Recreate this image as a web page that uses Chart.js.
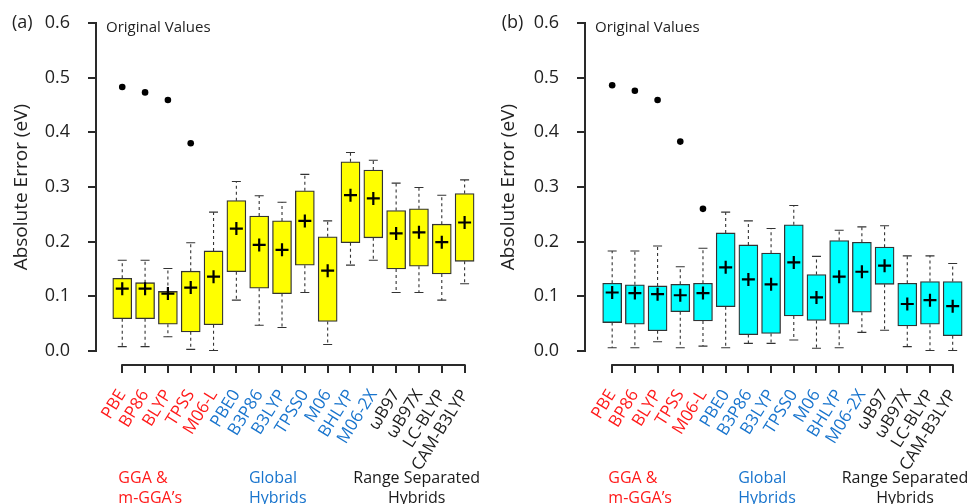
<!DOCTYPE html>
<html>
<head>
<meta charset="utf-8">
<script src="https://cdn.jsdelivr.net/npm/chart.js@4.4.1/dist/chart.umd.min.js"></script>
<style>
    body { margin: 0; background: #fff; }
    .panel { position: absolute; top: 0; }
</style>
</head>
<body>
<canvas id="chartA" class="panel" width="487" height="504" style="left:0px"></canvas>
<canvas id="chartB" class="panel" width="488" height="504" style="left:487px"></canvas>
<script>
const methodNames = ['PBE', 'BP86', 'BLYP', 'TPSS', 'M06-L', 'PBE0', 'B3P86', 'B3LYP', 'TPSS0',
    'M06', 'BHLYP', 'M06-2X', '\u03c9B97', '\u03c9B97X', 'LC-BLYP', 'CAM-B3LYP'];
const labelColors = ['#ff1a1a', '#ff1a1a', '#ff1a1a', '#ff1a1a', '#ff1a1a',
    '#1874cd', '#1874cd', '#1874cd', '#1874cd', '#1874cd', '#1874cd', '#1874cd',
    '#1a1a1a', '#1a1a1a', '#1a1a1a', '#1a1a1a'];
const yTicks = [0, 0.1, 0.2, 0.3, 0.4, 0.5, 0.6];

// (a) yellow panel
const aLow = [0.008, 0.008, 0.026, 0.003, 0.001, 0.093, 0.047, 0.043, 0.107, 0.012, 0.157, 0.166, 0.107, 0.107, 0.093, 0.123];
const aQ1 = [0.059, 0.059, 0.049, 0.035, 0.048, 0.145, 0.115, 0.105, 0.157, 0.054, 0.198, 0.207, 0.150, 0.155, 0.141, 0.164];
const aQ3 = [0.133, 0.125, 0.109, 0.146, 0.183, 0.275, 0.247, 0.238, 0.293, 0.209, 0.346, 0.331, 0.257, 0.260, 0.232, 0.288];
const aHigh = [0.166, 0.166, 0.151, 0.198, 0.254, 0.310, 0.284, 0.272, 0.323, 0.238, 0.363, 0.349, 0.307, 0.299, 0.285, 0.313];
const aMean = [0.114, 0.114, 0.105, 0.116, 0.136, 0.224, 0.194, 0.185, 0.238, 0.147, 0.285, 0.279, 0.215, 0.217, 0.199, 0.235];
const aOutIdx = [1, 2, 3, 4];
const aOutVal = [0.483, 0.473, 0.459, 0.380];

// (b) cyan panel
const bLow = [0.006, 0.006, 0.017, 0.006, 0.009, 0.006, 0.014, 0.014, 0.020, 0.005, 0.006, 0.034, 0.038, 0.008, 0.001, 0.001];
const bQ1 = [0.052, 0.049, 0.037, 0.072, 0.055, 0.081, 0.030, 0.032, 0.064, 0.056, 0.049, 0.071, 0.122, 0.046, 0.049, 0.028];
const bQ3 = [0.124, 0.121, 0.119, 0.122, 0.124, 0.216, 0.194, 0.179, 0.231, 0.140, 0.202, 0.199, 0.190, 0.124, 0.127, 0.127];
const bHigh = [0.183, 0.183, 0.192, 0.154, 0.188, 0.254, 0.238, 0.224, 0.266, 0.173, 0.221, 0.227, 0.229, 0.174, 0.174, 0.160];
const bMean = [0.107, 0.106, 0.104, 0.102, 0.106, 0.153, 0.131, 0.122, 0.162, 0.098, 0.136, 0.145, 0.156, 0.086, 0.093, 0.082];
const bOutIdx = [1, 2, 3, 4, 5];
const bOutVal = [0.486, 0.476, 0.459, 0.383, 0.260];

const groupLabels = [
    { lines: ['GGA &', 'm-GGA\u2019s'], x: 0.83, align: 'left', color: '#ff1a1a' },
    { lines: ['Global', 'Hybrids'], x: 6.55, align: 'left', color: '#1874cd' },
    { lines: ['Range Separated', 'Hybrids'], x: 13.9, align: 'center', color: '#1a1a1a' }
];

const axisColor = '#2a2a2a';
const textColor = '#222';
Chart.defaults.font.family = "'Open Sans', sans-serif";

function makeExtras(p) {
    return {
        id: 'boxExtras',
        afterDatasetsDraw(chart) {
            const { ctx, chartArea } = chart;
            const x = chart.scales.x, y = chart.scales.y;
            const base = Math.round(y.bottom);
            const left = Math.round(chartArea.left);
            ctx.save();
            // R style axes: lines only span the tick range
            ctx.strokeStyle = axisColor;
            ctx.lineWidth = 2;
            ctx.beginPath();
            ctx.moveTo(left, y.getPixelForValue(0) + 1);
            ctx.lineTo(left, y.getPixelForValue(0.6) - 1);
            ctx.moveTo(x.getPixelForValue(1) - 1, base);
            ctx.lineTo(x.getPixelForValue(methodNames.length) + 1, base);
            for (let i = 0; i < methodNames.length; i++) {
                ctx.moveTo(Math.round(x.getPixelForValue(i + 1)), base);
                ctx.lineTo(Math.round(x.getPixelForValue(i + 1)), base + 8);
            }
            for (const v of yTicks) {
                ctx.moveTo(left, Math.round(y.getPixelForValue(v)));
                ctx.lineTo(left - 8, Math.round(y.getPixelForValue(v)));
            }
            ctx.stroke();
            ctx.restore();
        },
        beforeDatasetsDraw(chart) {
            const { ctx } = chart;
            const x = chart.scales.x, y = chart.scales.y;
            ctx.save();
            // whiskers
            ctx.strokeStyle = '#333';
            ctx.lineWidth = 1.1;
            for (let i = 0; i < methodNames.length; i++) {
                const px = x.getPixelForValue(i + 1);
                ctx.setLineDash([3, 3]);
                ctx.beginPath();
                ctx.moveTo(px, y.getPixelForValue(p.q3[i]));
                ctx.lineTo(px, y.getPixelForValue(p.high[i]));
                ctx.moveTo(px, y.getPixelForValue(p.q1[i]));
                ctx.lineTo(px, y.getPixelForValue(p.low[i]));
                ctx.stroke();
                ctx.setLineDash([]);
                ctx.beginPath();
                ctx.moveTo(px - 4.5, y.getPixelForValue(p.high[i]));
                ctx.lineTo(px + 4.5, y.getPixelForValue(p.high[i]));
                ctx.moveTo(px - 4.5, y.getPixelForValue(p.low[i]));
                ctx.lineTo(px + 4.5, y.getPixelForValue(p.low[i]));
                ctx.stroke();
            }
            ctx.restore();
        },
        afterDraw(chart) {
            const { ctx, chartArea } = chart;
            const x = chart.scales.x, y = chart.scales.y;
            ctx.save();
            ctx.textBaseline = 'middle';
            ctx.fillStyle = textColor;
            ctx.font = "18px 'Open Sans'";
            ctx.textAlign = 'left';
            ctx.fillText(p.tag, p.tagX, y.getPixelForValue(0.6));
            ctx.font = "15px 'Open Sans'";
            ctx.fillText('Original Values', chartArea.left + 10, 28);

            ctx.font = "16px 'Open Sans'";
            for (const g of groupLabels) {
                ctx.fillStyle = g.color;
                ctx.textAlign = g.align;
                g.lines.forEach((line, k) => {
                    ctx.fillText(line, x.getPixelForValue(g.x), 478 + k * 20);
                });
            }
            ctx.restore();
        }
    };
}

function makePanel(id, p) {
    const boxes = methodNames.map((m, i) => ({ x: i + 1, y: [p.q1[i], p.q3[i]] }));
    const means = methodNames.map((m, i) => ({ x: i + 1, y: p.mean[i] }));
    const outliers = p.outIdx.map((v, i) => ({ x: v, y: p.outVal[i] }));

    return new Chart(document.getElementById(id), {
        type: 'bar',
        data: {
            datasets: [
                {
                    type: 'bar', data: boxes, backgroundColor: p.fill, borderColor: '#333',
                    borderWidth: 1.3, borderSkipped: false, barThickness: 19, order: 3
                },
                {
                    type: 'line', data: means, showLine: false, pointStyle: 'cross',
                    pointRadius: 6.5, pointBorderWidth: 2.2, pointBorderColor: '#000', order: 1
                },
                {
                    type: 'line', data: outliers, showLine: false, pointStyle: 'circle',
                    pointRadius: 3.3, pointBackgroundColor: '#000', pointBorderWidth: 0, order: 2
                }
            ]
        },
        options: {
            responsive: false,
            animation: false,
            layout: { padding: { left: 0, top: 9.3, right: p.padRight, bottom: 0 } },
            plugins: { legend: { display: false }, tooltip: { enabled: false } },
            scales: {
                x: {
                    type: 'linear', offset: false, min: p.xMin, max: 16.6,
                    afterBuildTicks: s => { s.ticks = methodNames.map((m, i) => ({ value: i + 1 })); },
                    afterFit: s => { s.height = 139; s.paddingLeft = 0; s.paddingRight = 0; },
                    grid: { display: false },
                    border: { display: false },
                    ticks: {
                        autoSkip: false, minRotation: 58, maxRotation: 58, padding: 13,
                        font: { size: 17 }, color: c => labelColors[c.index],
                        callback: v => methodNames[v - 1] || ''
                    }
                },
                y: {
                    min: -0.0256, max: 0.625,
                    afterBuildTicks: s => { s.ticks = yTicks.map(v => ({ value: v })); },
                    afterFit: s => { s.width = p.yWidth; s.paddingTop = 0; s.paddingBottom = 0; },
                    grid: { display: false },
                    border: { display: false },
                    ticks: { padding: 18, font: { size: 18 }, color: textColor, callback: v => v.toFixed(1) },
                    title: {
                        display: true, text: 'Absolute Error (eV)', color: textColor,
                        font: { size: 19 }, padding: { top: 10, bottom: 0 }
                    }
                }
            }
        },
        plugins: [makeExtras(p)]
    });
}

makePanel('chartA', {
    low: aLow, q1: aQ1, q3: aQ3, high: aHigh, mean: aMean, outIdx: aOutIdx, outVal: aOutVal,
    fill: '#ffff00', tag: '(a)', tagX: 12, yWidth: 96, xMin: -0.15, padRight: 3.6
});
makePanel('chartB', {
    low: bLow, q1: bQ1, q3: bQ3, high: bHigh, mean: bMean, outIdx: bOutIdx, outVal: bOutVal,
    fill: '#00ffff', tag: '(b)', tagX: 14.7, yWidth: 98, xMin: -0.197, padRight: 1.1
});
</script>
</body>
</html>
